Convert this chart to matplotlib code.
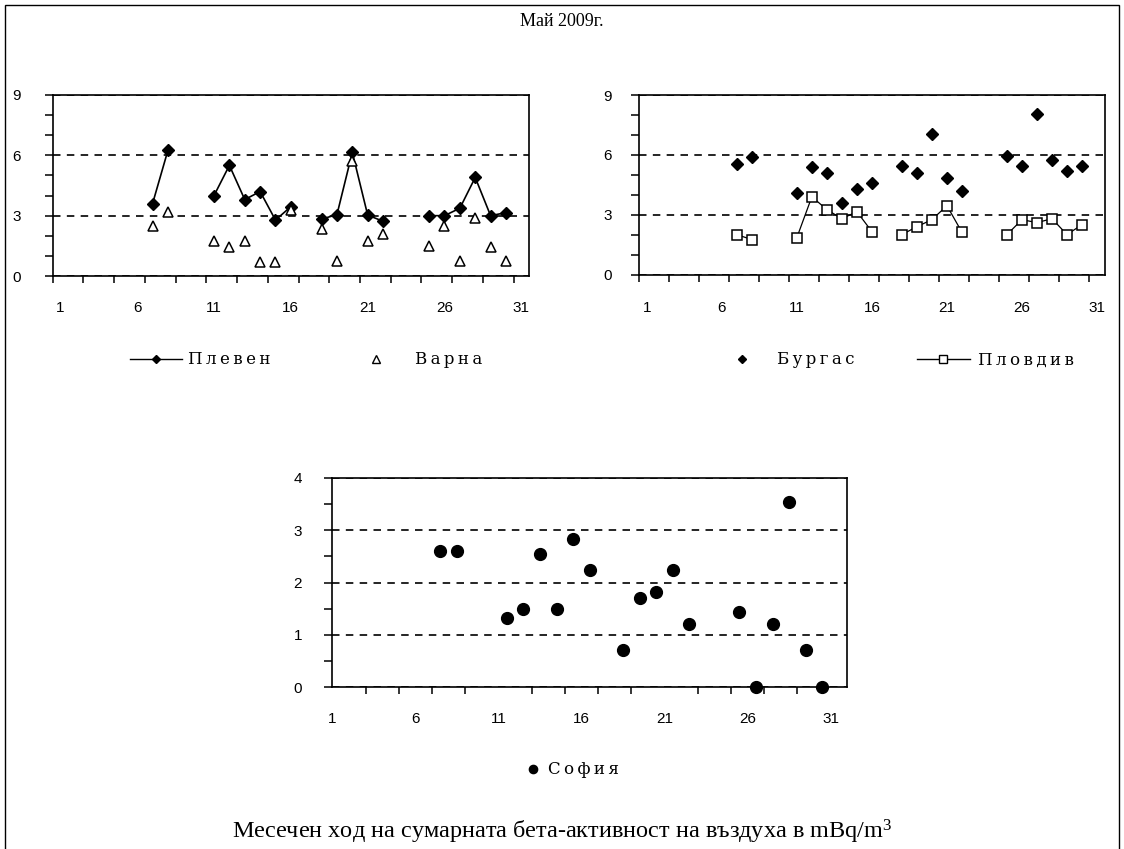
import numpy as np
import matplotlib
matplotlib.use("Agg")
import matplotlib.pyplot as plt
from matplotlib.lines import Line2D
from matplotlib.patches import Rectangle

# ---------------- data ----------------
all_days = np.arange(1, 32)
meas_days = [7, 8, 11, 12, 13, 14, 15, 16, 18, 19, 20, 21, 22, 25, 26, 27, 28, 29, 30]
pleven = [3.6, 6.25, 4.0, 5.5, 3.8, 4.2, 2.78, 3.45, 2.83, 3.05, 6.15, 3.03, 2.72,
          3.0, 3.0, 3.37, 4.9, 3.0, 3.15]
varna = [2.5, 3.2, 1.75, 1.45, 1.75, 0.72, 0.72, 3.3, 2.35, 0.75, 5.7, 1.75, 2.1,
         1.47, 2.47, 0.75, 2.88, 1.42, 0.75]
burgas = [5.54, 5.91, 4.1, 5.38, 5.08, 3.56, 4.3, 4.6, 5.44, 5.07, 7.03, 4.84, 4.2,
          5.94, 5.46, 8.05, 5.74, 5.21, 5.46]
plovdiv = [2.0, 1.75, 1.85, 3.9, 3.25, 2.8, 3.15, 2.15, 2.0, 2.4, 2.75, 3.45, 2.12,
           2.0, 2.75, 2.6, 2.8, 2.0, 2.5]
sofia = [2.6, 2.6, 1.32, 1.49, 2.55, 1.49, 2.83, 2.23, 0.71, 1.70, 1.82, 2.23, 1.21,
         1.43, 0.01, 1.21, 3.53, 0.71, 0.0]
day_labels = ["1", "6", "11", "16", "21", "26", "31"]
series_names = ["Плевен", "Варна", "Бургас", "Пловдив", "София"]
title = "Май 2009г."
caption = "Месечен ход на сумарната бета-активност на въздуха в mBq/m$^3$"


def full_month(vals):
    arr = np.full(len(all_days), np.nan)
    for d, v in zip(meas_days, vals):
        arr[d - 1] = v
    return arr


def spaced(name):
    return "\u2009".join(name)


plt.rcParams['mathtext.default'] = 'regular'
W, H = 1124, 849
fig = plt.figure(figsize=(W / 100, H / 100), dpi=100)
fig.patch.set_facecolor('white')

TICKFONT = dict(family='Liberation Sans', size=11)
LEGFONT = dict(family='DejaVu Serif', size=12)


def px_axes(l, t, r, b):
    return fig.add_axes([l / W, 1 - b / H, (r - l) / W, (b - t) / H])


def style_axes(ax, ymax, ystep, yminor, label_pos, ypad, xpad):
    ax.set_xlim(0.5, 31.5)
    ax.set_ylim(0, ymax)
    for s in ax.spines.values():
        s.set_linewidth(1.2)
        s.set_color('black')
    ax.set_yticks(np.arange(0, ymax + 0.001, ystep))
    ax.set_yticks(np.arange(0, ymax + 0.001, yminor), minor=True)
    ax.set_xticks(label_pos)
    ax.set_xticklabels(day_labels)
    ax.set_xticks(np.arange(0.5, 31, 2), minor=True)
    ax.tick_params(axis='y', which='both', direction='out', length=5.8, width=1.1,
                   pad=ypad, labelsize=TICKFONT['size'])
    ax.tick_params(axis='x', which='minor', direction='out', length=5, width=1.1)
    ax.tick_params(axis='x', which='major', length=0, pad=xpad,
                   labelsize=TICKFONT['size'])
    for lab in ax.get_xticklabels() + ax.get_yticklabels():
        lab.set_family(TICKFONT['family'])
    ax.grid(axis='y', which='major', linestyle=(0, (4.5, 3.8)), color='black',
            linewidth=1.2)
    ax.set_axisbelow(True)


def add_leg(handle, label, x_px, y_px, hl, pad):
    fig.legend([handle], [spaced(label)], loc='center left',
               bbox_to_anchor=(x_px / W, 1 - y_px / H), frameon=False,
               borderpad=0, borderaxespad=0, handlelength=hl, handletextpad=pad,
               prop=LEGFONT, markerscale=0.7)


# ---------------- top-left: Плевен / Варна ----------------
ax1 = px_axes(52.7, 95, 529, 276)
style_axes(ax1, 9, 3, 1, [1, 6, 11, 16, 21, 26, 31], 17, 18)
ax1.plot(all_days, full_month(pleven), color='black', lw=1.2, marker='D',
         ms=6.2, mfc='black', mec='black', zorder=3)
ax1.plot(meas_days, varna, linestyle='none', marker='^', ms=7.5,
         mfc='white', mec='black', mew=1.1, zorder=4)

# ---------------- top-right: Бургас / Пловдив ----------------
ax2 = px_axes(639.3, 95, 1104.5, 274.5)
style_axes(ax2, 9, 3, 1, [1, 6, 11, 16, 21, 26, 31], 14, 19)
ax2.plot(all_days, full_month(plovdiv), color='black', lw=0.9, marker='s',
         ms=7.5, mfc='white', mec='black', mew=1.1, zorder=3)
ax2.plot(meas_days, burgas, linestyle='none', marker='D', ms=6.2,
         mfc='black', mec='black', zorder=4)

# ---------------- bottom: София ----------------
ax3 = px_axes(332.3, 477.7, 847.3, 687.3)
style_axes(ax3, 4, 1, 0.5, [0.5, 5.5, 10.5, 15.5, 20.5, 25.5, 30.5], 16, 18)
ax3.plot(meas_days, sofia, linestyle='none', marker='o', ms=8.5,
         mfc='black', mec='black', zorder=4, clip_on=False)

# ---------------- legends ----------------
LEG_Y = 360
add_leg(Line2D([], [], color='black', lw=1.0, marker='D', ms=6.2, mfc='black', mec='black'),
        series_names[0], 130, LEG_Y, 3.11, 0.36)
add_leg(Line2D([], [], linestyle='none', marker='^', ms=7.5, mfc='white', mec='black', mew=1.0),
        series_names[1], 367.6, LEG_Y, 1.0, 1.84)
add_leg(Line2D([], [], linestyle='none', marker='D', ms=6.2, mfc='black', mec='black'),
        series_names[2], 733.3, LEG_Y, 1.0, 1.6)
add_leg(Line2D([], [], color='black', lw=1.0, marker='s', ms=7.5, mfc='white', mec='black', mew=1.0),
        series_names[3], 916.7, LEG_Y, 3.19, 0.5)
add_leg(Line2D([], [], linestyle='none', marker='o', ms=8.5, mfc='black', mec='black'),
        series_names[4], 524.6, 770, 1.0, 0.4)

# ---------------- titles & frame ----------------
fig.text(0.5, 1 - 22 / H, title, ha='center', va='center',
         family='Liberation Serif', size=13)
fig.text(0.5, 1 - 832 / H, caption, ha='center', va='center',
         family='Liberation Serif', size=17.5)
fig.add_artist(Rectangle((5 / W, -0.02), (1119 - 5) / W, 1.02 - 5 / H,
                         transform=fig.transFigure, fill=False, edgecolor='black',
                         linewidth=1.0))

fig.savefig("out.png", dpi=100, facecolor='white')
